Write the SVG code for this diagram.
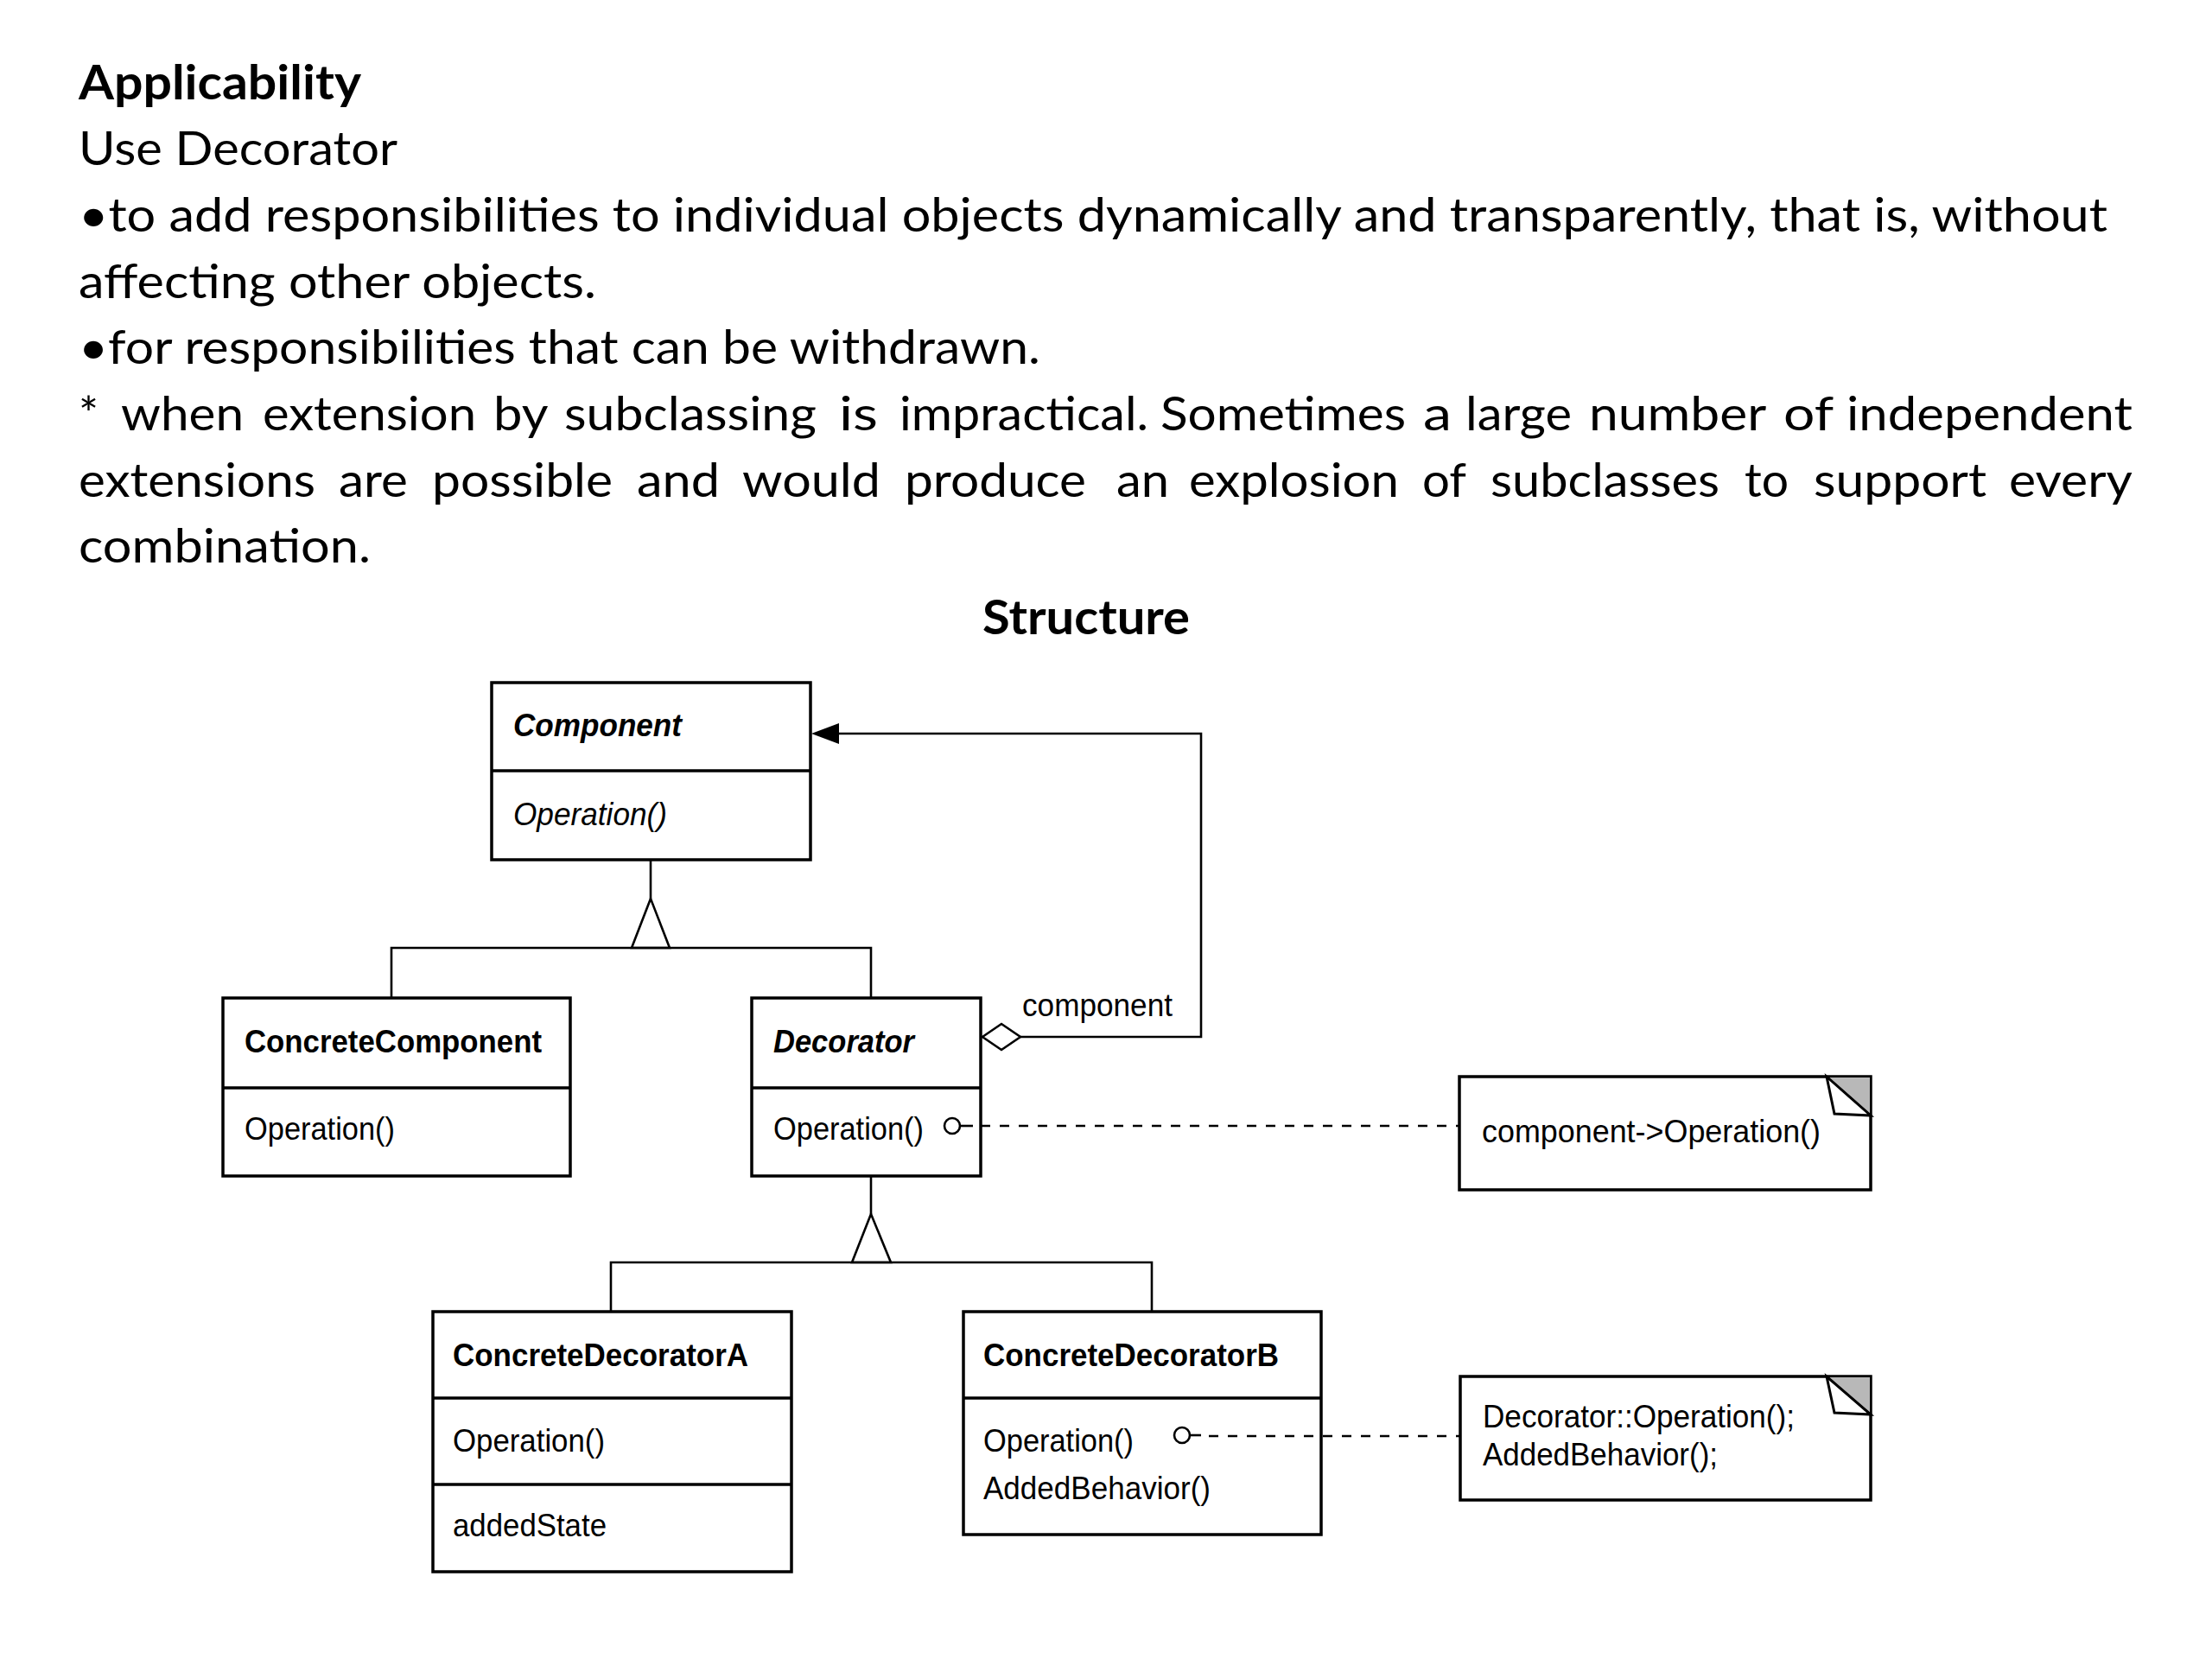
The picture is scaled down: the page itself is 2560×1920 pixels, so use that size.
<svg xmlns="http://www.w3.org/2000/svg" width="2560" height="1920" viewBox="0 0 2560 1920">
<style>
.h{font-family:Lato,"Open Sans","Liberation Sans",sans-serif;font-size:55px;fill:#000}
.hb{font-weight:bold}
.u{font-family:"Liberation Sans",Arial,Helvetica,sans-serif;font-size:37px;fill:#000}
.b{font-weight:bold}
.i{font-style:italic}
.box{fill:#fff;stroke:#000;stroke-width:3.5}
.sep{stroke:#000;stroke-width:3.5}
.ln{fill:none;stroke:#000;stroke-width:2.6}
.dash{fill:none;stroke:#000;stroke-width:2.6;stroke-dasharray:11 11}
.tri{fill:#fff;stroke:#000;stroke-width:2.6;stroke-linejoin:miter}
.shade{fill:#b8b8b8;stroke:#000;stroke-width:2}
.flap{fill:#fff;stroke:#000;stroke-width:3;stroke-linejoin:miter}
</style>
<rect x="0" y="0" width="2560" height="1920" fill="#fff"/>

<g id="text">
<text class="h hb" x="91" y="115" textLength="327" lengthAdjust="spacingAndGlyphs">Applicability</text>
<text class="h" x="91" y="191" textLength="369" lengthAdjust="spacingAndGlyphs">Use Decorator</text>
<text class="h" x="91" y="268" textLength="2348" lengthAdjust="spacingAndGlyphs">•to add responsibilities to individual objects dynamically and transparently, that is, without</text>
<text class="h" x="91" y="345" textLength="599" lengthAdjust="spacingAndGlyphs">affecting other objects.</text>
<text class="h" x="91" y="421" textLength="1113" lengthAdjust="spacingAndGlyphs">•for responsibilities that can be withdrawn.</text>
<text class="h" y="498"><tspan x="91" textLength="23" lengthAdjust="spacingAndGlyphs">*</tspan> <tspan x="140" textLength="142" lengthAdjust="spacingAndGlyphs">when</tspan> <tspan x="304" textLength="247" lengthAdjust="spacingAndGlyphs">extension</tspan> <tspan x="571" textLength="62" lengthAdjust="spacingAndGlyphs">by</tspan> <tspan x="653" textLength="292" lengthAdjust="spacingAndGlyphs">subclassing</tspan> <tspan x="971" textLength="45" lengthAdjust="spacingAndGlyphs">is</tspan> <tspan x="1041" textLength="288" lengthAdjust="spacingAndGlyphs">impractical.</tspan> <tspan x="1343" textLength="284" lengthAdjust="spacingAndGlyphs">Sometimes</tspan> <tspan x="1647" textLength="33" lengthAdjust="spacingAndGlyphs">a</tspan> <tspan x="1696" textLength="123" lengthAdjust="spacingAndGlyphs">large</tspan> <tspan x="1839" textLength="204" lengthAdjust="spacingAndGlyphs">number</tspan> <tspan x="2064" textLength="57" lengthAdjust="spacingAndGlyphs">of</tspan> <tspan x="2137" textLength="331" lengthAdjust="spacingAndGlyphs">independent</tspan></text>
<text class="h" y="575"><tspan x="91" textLength="274" lengthAdjust="spacingAndGlyphs">extensions</tspan> <tspan x="392" textLength="80" lengthAdjust="spacingAndGlyphs">are</tspan> <tspan x="500" textLength="209" lengthAdjust="spacingAndGlyphs">possible</tspan> <tspan x="737" textLength="96" lengthAdjust="spacingAndGlyphs">and</tspan> <tspan x="859" textLength="160" lengthAdjust="spacingAndGlyphs">would</tspan> <tspan x="1047" textLength="210" lengthAdjust="spacingAndGlyphs">produce</tspan> <tspan x="1292" textLength="61" lengthAdjust="spacingAndGlyphs">an</tspan> <tspan x="1376" textLength="243" lengthAdjust="spacingAndGlyphs">explosion</tspan> <tspan x="1646" textLength="50" lengthAdjust="spacingAndGlyphs">of</tspan> <tspan x="1725" textLength="265" lengthAdjust="spacingAndGlyphs">subclasses</tspan> <tspan x="2019" textLength="51" lengthAdjust="spacingAndGlyphs">to</tspan> <tspan x="2099" textLength="200" lengthAdjust="spacingAndGlyphs">support</tspan> <tspan x="2325" textLength="143" lengthAdjust="spacingAndGlyphs">every</tspan></text>
<text class="h" x="91" y="651" textLength="338" lengthAdjust="spacingAndGlyphs">combination.</text>
<text class="h hb" x="1137" y="734" textLength="240" lengthAdjust="spacingAndGlyphs">Structure</text>
</g>

<g id="connectors">
<line class="ln" x1="753" y1="995" x2="753" y2="1040"/>
<polygon class="tri" points="753,1040 731,1097 775,1097"/>
<polyline class="ln" points="453,1155 453,1097 1008,1097 1008,1155"/>
<line class="ln" x1="1008" y1="1361" x2="1008" y2="1405"/>
<polygon class="tri" points="1008,1405 986,1461 1031,1461"/>
<polyline class="ln" points="707,1518 707,1461 1333,1461 1333,1518"/>
<polyline class="ln" points="1181,1200 1390,1200 1390,849 968,849"/>
<polygon points="939,849 971,837 971,861" fill="#000"/>
<polygon class="tri" points="1137,1200 1159,1185 1181,1200 1159,1215"/>
<text class="u" x="1183" y="1176" textLength="174" lengthAdjust="spacingAndGlyphs">component</text>
<line class="dash" x1="1135" y1="1303" x2="1689" y2="1303"/>
<line class="dash" x1="1399" y1="1662" x2="1690" y2="1662"/>
</g>

<g id="component">
<rect class="box" x="569" y="790" width="369" height="205"/>
<line class="sep" x1="569" y1="892" x2="938" y2="892"/>
<text class="u b i" x="594" y="852" textLength="195" lengthAdjust="spacingAndGlyphs">Component</text>
<text class="u i" x="594" y="955" textLength="178" lengthAdjust="spacingAndGlyphs">Operation()</text>
</g>

<g id="concreteComponent">
<rect class="box" x="258" y="1155" width="402" height="206"/>
<line class="sep" x1="258" y1="1259" x2="660" y2="1259"/>
<text class="u b" x="283" y="1218" textLength="344" lengthAdjust="spacingAndGlyphs">ConcreteComponent</text>
<text class="u" x="283" y="1319" textLength="174" lengthAdjust="spacingAndGlyphs">Operation()</text>
</g>

<g id="decorator">
<rect class="box" x="870" y="1155" width="265" height="206"/>
<line class="sep" x1="870" y1="1259" x2="1135" y2="1259"/>
<text class="u b i" x="895" y="1218" textLength="163" lengthAdjust="spacingAndGlyphs">Decorator</text>
<text class="u" x="895" y="1319" textLength="174" lengthAdjust="spacingAndGlyphs">Operation()</text>
<circle class="tri" cx="1102" cy="1303" r="9"/>
<line class="ln" x1="1111" y1="1303" x2="1126" y2="1303"/>
</g>

<g id="concreteDecoratorA">
<rect class="box" x="501" y="1518" width="415" height="301"/>
<line class="sep" x1="501" y1="1618" x2="916" y2="1618"/>
<line class="sep" x1="501" y1="1718" x2="916" y2="1718"/>
<text class="u b" x="524" y="1581" textLength="342" lengthAdjust="spacingAndGlyphs">ConcreteDecoratorA</text>
<text class="u" x="524" y="1680" textLength="176" lengthAdjust="spacingAndGlyphs">Operation()</text>
<text class="u" x="524" y="1778" textLength="178" lengthAdjust="spacingAndGlyphs">addedState</text>
</g>

<g id="concreteDecoratorB">
<rect class="box" x="1115" y="1518" width="414" height="258"/>
<line class="sep" x1="1115" y1="1618" x2="1529" y2="1618"/>
<text class="u b" x="1138" y="1581" textLength="342" lengthAdjust="spacingAndGlyphs">ConcreteDecoratorB</text>
<text class="u" x="1138" y="1680" textLength="174" lengthAdjust="spacingAndGlyphs">Operation()</text>
<text class="u" x="1138" y="1735" textLength="263" lengthAdjust="spacingAndGlyphs">AddedBehavior()</text>
<circle class="tri" cx="1368" cy="1661" r="9"/>
<line class="ln" x1="1377" y1="1661" x2="1390" y2="1661"/>
<line class="dash" x1="1399" y1="1662" x2="1529" y2="1662"/>
</g>

<g id="note1">
<rect class="box" x="1689" y="1246" width="476" height="131"/>
<polygon class="shade" points="2114,1246 2165,1246 2165,1291"/>
<polygon class="flap" points="2114,1246 2123,1289 2165,1291"/>
<text class="u" x="1715" y="1322" textLength="392" lengthAdjust="spacingAndGlyphs">component-&gt;Operation()</text>
</g>

<g id="note2">
<rect class="box" x="1690" y="1593" width="475" height="143"/>
<polygon class="shade" points="2114,1593 2165,1593 2165,1637"/>
<polygon class="flap" points="2114,1593 2123,1635 2165,1637"/>
<text class="u" x="1716" y="1652" textLength="361" lengthAdjust="spacingAndGlyphs">Decorator::Operation();</text>
<text class="u" x="1716" y="1696" textLength="272" lengthAdjust="spacingAndGlyphs">AddedBehavior();</text>
</g>
</svg>
